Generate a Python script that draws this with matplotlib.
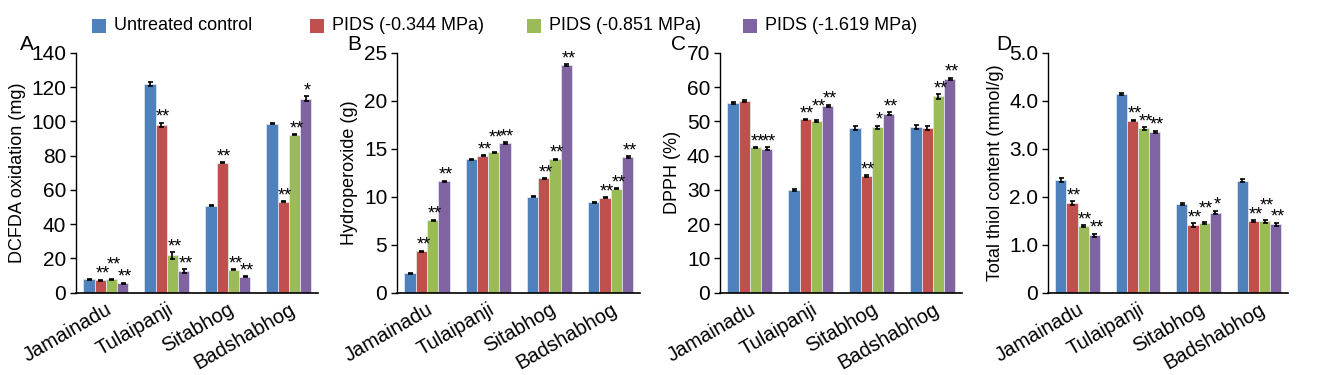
import numpy as np
import matplotlib
matplotlib.use("Agg")
import matplotlib.pyplot as plt
from matplotlib.patches import Rectangle

plt.rcParams['font.family'] = ['Liberation Sans', 'DejaVu Sans']

# ---------- Data ----------
cultivars = ["Jamainadu", "Tulaipanji", "Sitabhog", "Badshabhog"]
series = ["Untreated control", "PIDS (-0.344 MPa)", "PIDS (-0.851 MPa)", "PIDS (-1.619 MPa)"]
colors = ["#4F81BD", "#C0504D", "#9BBB59", "#8064A2"]

# A: DCFDA oxidation (mg); rows = series, columns = cultivars
dcfda = [[7.8, 122.0, 50.6, 98.7],
         [7.2, 98.1, 75.8, 53.0],
         [7.6, 21.8, 13.3, 92.3],
         [5.5, 12.6, 9.2, 113.4]]
dcfda_err = [[0.3, 1.0, 0.3, 0.3],
             [0.3, 1.2, 0.3, 0.3],
             [0.3, 2.0, 0.3, 0.3],
             [0.3, 1.0, 0.3, 1.5]]
dcfda_sig = [["", "", "", ""],
             ["**", "**", "**", "**"],
             ["**", "**", "**", "**"],
             ["**", "**", "**", "*"]]

# B: Hydroperoxide (g)
hydro = [[2.0, 13.9, 10.0, 9.4],
         [4.3, 14.3, 11.9, 9.9],
         [7.55, 14.65, 13.9, 10.85],
         [11.6, 15.6, 23.7, 14.15]]
hydro_err = [[0.06, 0.07, 0.07, 0.06],
             [0.07, 0.07, 0.08, 0.08],
             [0.06, 0.06, 0.08, 0.07],
             [0.08, 0.07, 0.1, 0.1]]
hydro_sig = [["", "", "", ""],
             ["**", "**", "**", "**"],
             ["**", "**", "**", "**"],
             ["**", "**", "**", "**"]]

# C: DPPH (%)
dpph = [[55.4, 30.0, 48.1, 48.3],
        [55.9, 50.6, 34.1, 48.1],
        [42.4, 50.0, 48.3, 57.3],
        [42.0, 54.5, 52.3, 62.4]]
dpph_err = [[0.3, 0.2, 0.5, 0.6],
            [0.3, 0.2, 0.3, 0.5],
            [0.2, 0.3, 0.5, 0.6],
            [0.4, 0.4, 0.4, 0.4]]
dpph_sig = [["", "", "", ""],
            ["", "**", "**", ""],
            ["**", "**", "*", "**"],
            ["**", "**", "**", "**"]]

# D: Total thiol content (mmol/g)
thiol = [[2.34, 4.14, 1.85, 2.33],
         [1.87, 3.59, 1.41, 1.49],
         [1.38, 3.43, 1.45, 1.49],
         [1.19, 3.36, 1.67, 1.42]]
thiol_err = [[0.04, 0.02, 0.02, 0.03],
             [0.04, 0.02, 0.04, 0.02],
             [0.02, 0.03, 0.02, 0.03],
             [0.04, 0.02, 0.04, 0.04]]
thiol_sig = [["", "", "", ""],
             ["**", "**", "**", "**"],
             ["**", "**", "**", "**"],
             ["**", "**", "*", "**"]]

panels = [
    ("A", "DCFDA oxidation (mg)", dcfda, dcfda_err, dcfda_sig, np.arange(0, 141, 20), [str(v) for v in range(0, 141, 20)]),
    ("B", "Hydroperoxide (g)", hydro, hydro_err, hydro_sig, np.arange(0, 26, 5), [str(v) for v in range(0, 26, 5)]),
    ("C", "DPPH (%)", dpph, dpph_err, dpph_sig, np.arange(0, 71, 10), [str(v) for v in range(0, 71, 10)]),
    ("D", "Total thiol content (mmol/g)", thiol, thiol_err, thiol_sig, np.arange(0, 5.1, 1.0), ["0", "1.0", "2.0", "3.0", "4.0", "5.0"]),
]

# axes boxes in figure pixels (left, right) and panel letter x
fig_w, fig_h = 1325, 375
boxes = [(76, 318), (397, 640), (720, 962), (1048, 1288)]
letter_x = [27, 354, 679, 1004]
ax_top, ax_bot = 53, 292.5

fig = plt.figure(figsize=(13.25, 3.75), dpi=100)
x = np.arange(len(cultivars))
w = 0.184

for (letter, ylabel, vals, errs, sigs, ticks, ticklabels), (l, r), lx in zip(panels, boxes, letter_x):
    ax = fig.add_axes([l / fig_w, (fig_h - ax_bot) / fig_h, (r - l) / fig_w, (ax_bot - ax_top) / fig_h])
    px_per_unit = (ax_bot - ax_top) / (ticks[-1] - ticks[0])
    for i in range(len(series)):
        xs = x + (i - 1.5) * w
        ax.bar(xs, vals[i], width=w, color=colors[i], edgecolor="#e8ecf4", linewidth=0.5)
        ax.errorbar(xs, vals[i], yerr=errs[i], fmt="none", ecolor="black", elinewidth=1.2, capsize=1.8, capthick=1.2)
        for j, (xi, v, e, s) in enumerate(zip(xs, vals[i], errs[i], sigs[i])):
            if not s:
                continue
            dy = 0.5
            # lift the middle marks when they would sit on the neighbour's stars
            if i == 2 and sigs[1][j] and abs((v + e) - (vals[1][j] + errs[1][j])) * px_per_unit < 6:
                dy = 6.5
            ax.annotate(s, (xi, v + e), xytext=(1.5, dy), textcoords="offset points",
                        ha="center", va="baseline", fontsize=13)
    ax.set_xlim(-0.49, 3.48)
    ax.set_ylim(ticks[0], ticks[-1])
    ax.set_yticks(ticks)
    ax.set_yticklabels(ticklabels, fontsize=15)
    ax.set_xticks(x)
    ax.set_xticklabels(cultivars, rotation=30, ha="right", rotation_mode="anchor", fontsize=14.5)
    ax.tick_params(axis="x", length=0, pad=5)
    ax.tick_params(axis="y", length=4, width=1, direction="out", pad=3)
    ax.set_ylabel(ylabel, fontsize=13, labelpad=4)
    ax.spines["top"].set_visible(False)
    ax.spines["right"].set_visible(False)
    ax.spines["left"].set_linewidth(1)
    ax.spines["bottom"].set_linewidth(1.2)
    fig.text(lx / fig_w, (fig_h - 45) / fig_h, letter, ha="center", va="center", fontsize=15)

# legend across the top
leg_x = [92, 310, 527, 743]
for name, c, px in zip(series, colors, leg_x):
    fig.patches.append(Rectangle((px / fig_w, (fig_h - 33) / fig_h), 14 / fig_w, 14 / fig_h,
                                 transform=fig.transFigure, facecolor=c, edgecolor="none"))
    fig.text((px + 22) / fig_w, (fig_h - 26) / fig_h, name, ha="left", va="center", fontsize=13)

fig.savefig("out.png", dpi=100)
